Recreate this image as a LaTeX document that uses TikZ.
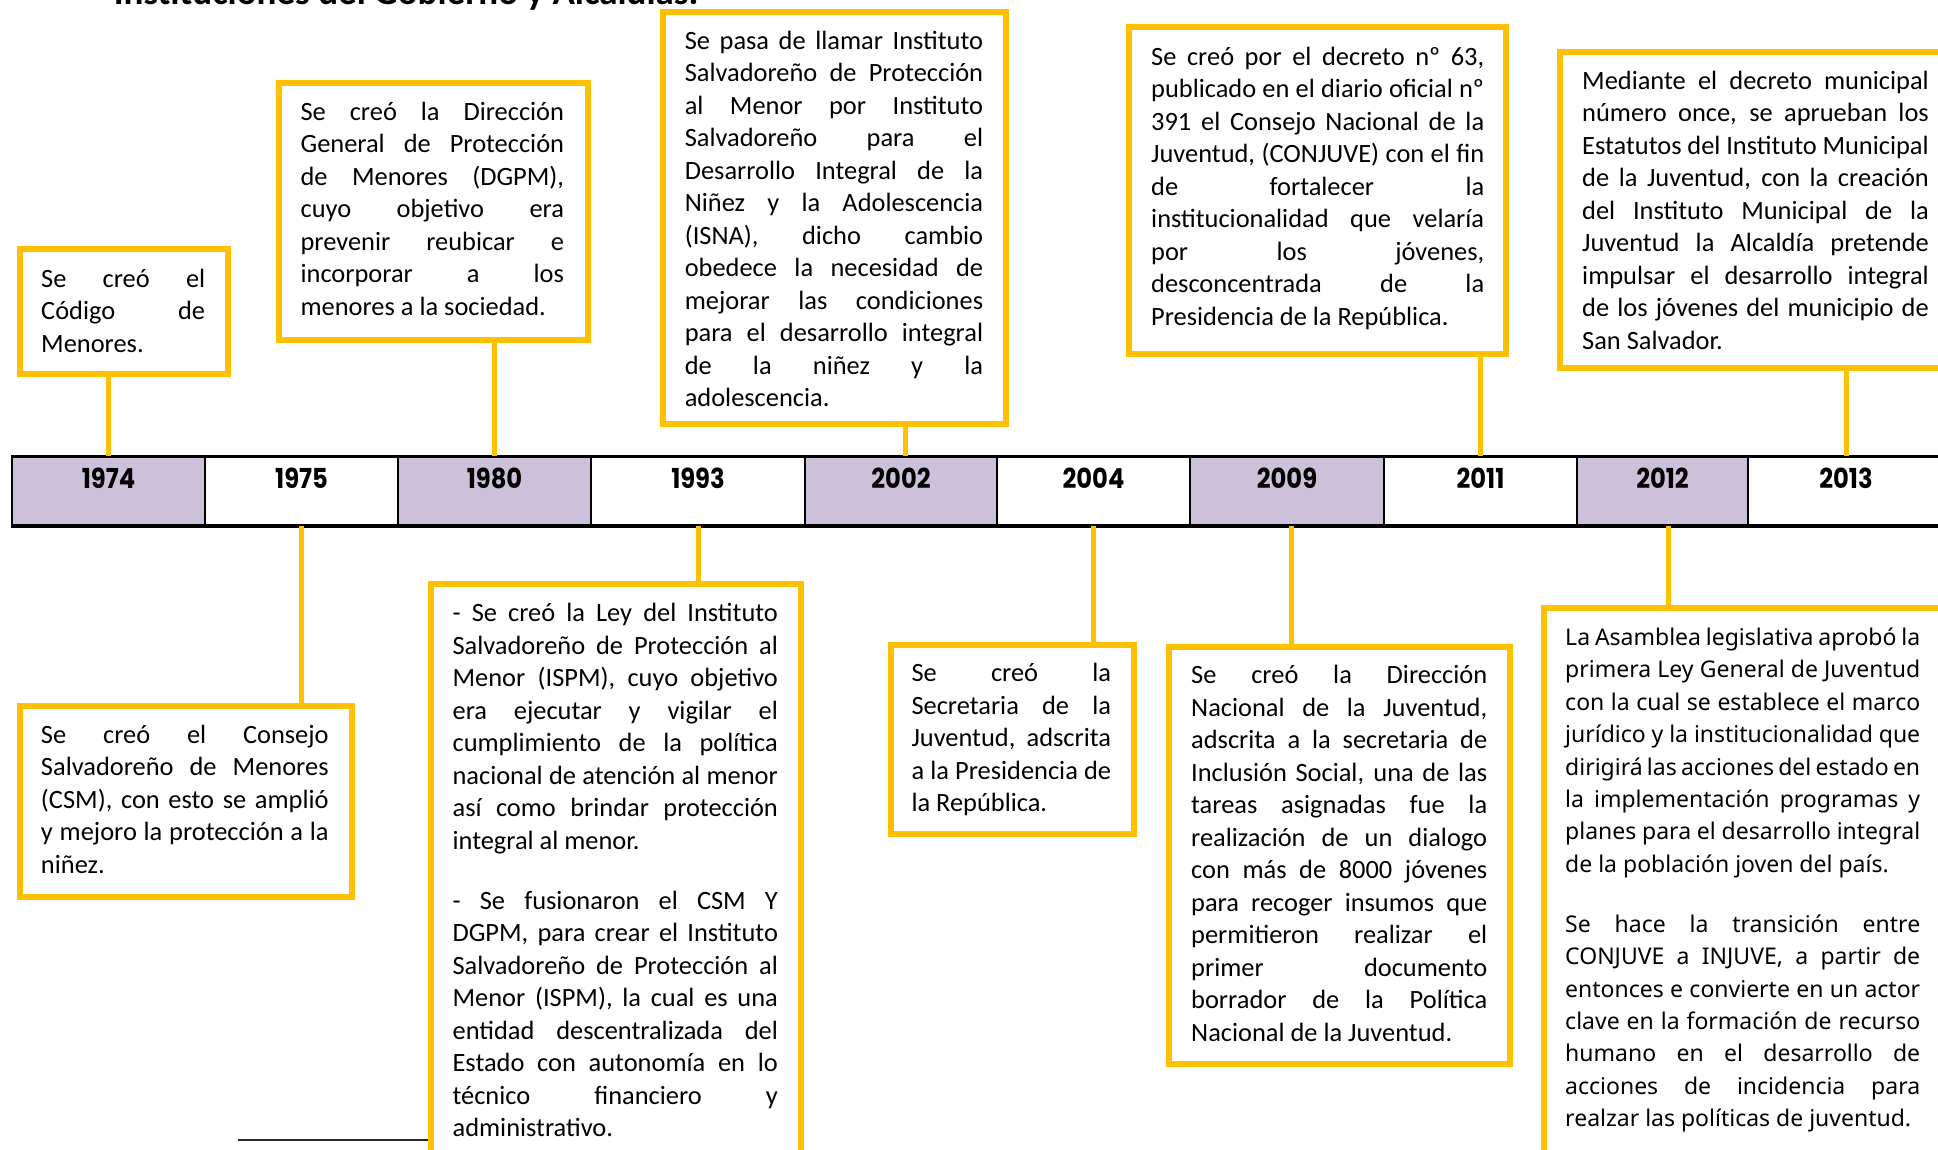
\documentclass[tikz,border=0pt]{standalone}
\usepackage{fontspec}
\setmainfont{Carlito}
\newfontfamily\yearfont{Poppins}[FakeStretch=0.88]
\newfontfamily\altfont{Noto Sans}
\definecolor{gold}{HTML}{FFC000}
\definecolor{lav}{HTML}{CCC0DA}
\setlength{\parindent}{0pt}
\setlength{\parskip}{0pt}
\tolerance=10000
\hbadness=10000
\hyphenpenalty=10000
\newcommand\bodyfont{\fontsize{26.4bp}{32.5bp}\selectfont}
\newcommand\altbody{\altfont\fontsize{23bp}{32.4bp}\selectfont}
\begin{document}
\begin{tikzpicture}[x=1bp,y=-1bp,
  evbox/.style={draw=gold, line width=6bp, fill=white, rectangle, inner sep=0pt},
  txt/.style={anchor=north west, inner sep=0pt, text width=#1, align=justify, font=\bodyfont},
  conn/.style={draw=gold, line width=5bp},
  cell/.style={draw=black, line width=2bp, rectangle, inner sep=0pt, minimum height=68bp},
  purp/.style={cell, fill=lav},
  plain/.style={cell, fill=white},
  year/.style={font=\yearfont\fontsize{27.5bp}{27.5bp}\selectfont\bfseries, inner sep=0pt, text=black}
]
\clip (0,0) rectangle (1938,1149);
\fill[white] (0,0) rectangle (1938,1149);

% title (cut off at top)
\node[anchor=base west, inner sep=0pt, font=\fontsize{37bp}{40bp}\selectfont\bfseries] (title) at (113.6,4) {Instituciones del Gobierno y Alcaldías.};

% timeline cells
\node[purp,  minimum width=193bp] (c1974) at (108.5,491) {};
\node[plain, minimum width=193bp] (c1975) at (301.5,491) {};
\node[purp,  minimum width=193bp] (c1980) at (494.5,491) {};
\node[plain, minimum width=214bp] (c1993) at (698,491) {};
\node[purp,  minimum width=192bp] (c2002) at (901,491) {};
\node[plain, minimum width=193bp] (c2004) at (1093.5,491) {};
\node[purp,  minimum width=194bp] (c2009) at (1287,491) {};
\node[plain, minimum width=193bp] (c2011) at (1480.5,491) {};
\node[purp,  minimum width=171bp] (c2012) at (1662.5,491) {};
\node[plain, minimum width=196bp] (c2013) at (1846,491) {};
\draw[line width=3bp] (c1974.north west) -- (c2013.north east);
\draw[line width=3bp] (c1974.south west) -- (c2013.south east);

\foreach \yr in {1974,1975,1980,1993,2002,2004,2009,2011,2012,2013}
  \node[year] (y\yr) at ([yshift=13bp]c\yr.center) {\yr};

% event boxes (top)
\node[evbox, minimum width=208bp, minimum height=125bp] (b1974) at (124,311.5) {};
\node[evbox, minimum width=309bp, minimum height=257bp] (b1980) at (433,211.5) {};
\node[evbox, minimum width=343bp, minimum height=412bp] (b2002) at (834.5,218) {};
\node[evbox, minimum width=377bp, minimum height=327bp] (b2011) at (1317.5,190.5) {};
\node[evbox, minimum width=400bp, minimum height=316bp] (b2013) at (1760,210) {};
% event boxes (bottom)
\node[evbox, minimum width=331bp, minimum height=191bp] (b1975) at (186,801.4) {};
\node[evbox, minimum width=370bp, minimum height=586bp] (b1993) at (615.9,876.9) {};
\node[evbox, minimum width=243bp, minimum height=189bp] (b2004) at (1012.3,739.2) {};
\node[evbox, minimum width=341bp, minimum height=417bp] (b2009) at (1339.5,855) {};
\node[evbox, minimum width=416bp, minimum height=562bp] (b2012) at (1751.9,888.9) {};

% connectors
\draw[conn] (c1974.north) -- (c1974.north |- b1974.south);
\draw[conn] (c1980.north) -- (c1980.north |- b1980.south);
\draw[conn] ([xshift=4bp]c2002.north) -- ([xshift=4bp]c2002.north |- b2002.south);
\draw[conn] (c2011.north) -- (c2011.north |- b2011.south);
\draw[conn] (c2013.north) -- (c2013.north |- b2013.south);
\draw[conn] (c1975.south) -- (c1975.south |- b1975.north);
\draw[conn] (c1993.south) -- (c1993.south |- b1993.north);
\draw[conn] (c2004.south) -- (c2004.south |- b2004.north);
\draw[conn] ([xshift=4bp]c2009.south) -- ([xshift=4bp]c2009.south |- b2009.north);
\draw[conn] ([xshift=6bp]c2012.south) -- ([xshift=6bp]c2012.south |- b2012.north);

% texts
\node[txt=164bp] (t1974) at (41,264.25) {\strut Se creó el\linebreak Código de\linebreak Menores.};
\node[txt=263.4bp] (t1980) at (300.4,97.25) {\strut Se creó la Dirección\linebreak General de Protección\linebreak de Menores (DGPM),\linebreak cuyo objetivo era\linebreak prevenir reubicar e\linebreak incorporar a los\linebreak menores a la sociedad.};
\node[txt=298.3bp] (t2002) at (684.6,26.25) {\strut Se pasa de llamar Instituto\linebreak Salvadoreño de Protección\linebreak al Menor por Instituto\linebreak Salvadoreño para el\linebreak Desarrollo Integral de la\linebreak Niñez y la Adolescencia\linebreak (ISNA), dicho cambio\linebreak obedece la necesidad de\linebreak mejorar las condiciones\linebreak para el desarrollo integral\linebreak de la niñez y la\linebreak adolescencia.};
\node[txt=333bp] (t2011) at (1151,42.25) {\strut Se creó por el decreto nº 63,\linebreak publicado en el diario oficial nº\linebreak 391 el Consejo Nacional de la\linebreak Juventud, (CONJUVE) con el fin\linebreak de fortalecer la\linebreak institucionalidad que velaría\linebreak por los jóvenes,\linebreak desconcentrada de la\linebreak Presidencia de la República.};
\node[txt=346.6bp] (t2013) at (1582,66.25) {\strut Mediante el decreto municipal\linebreak número once, se aprueban los\linebreak Estatutos del Instituto Municipal\linebreak de la Juventud, con la creación\linebreak del Instituto Municipal de la\linebreak Juventud la Alcaldía pretende\linebreak impulsar el desarrollo integral\linebreak de los jóvenes del municipio de\linebreak San Salvador.};
\node[txt=287.6bp] (t1975) at (40.8,720.25) {\strut Se creó el Consejo\linebreak Salvadoreño de Menores\linebreak (CSM), con esto se amplió\linebreak y mejoro la protección a la\linebreak niñez.};
\node[txt=325.3bp] (t1993) at (452.4,598.95) {\strut - Se creó la Ley del Instituto\linebreak Salvadoreño de Protección al\linebreak Menor (ISPM), cuyo objetivo\linebreak era ejecutar y vigilar el\linebreak cumplimiento de la política\linebreak nacional de atención al menor\linebreak así como brindar protección\linebreak integral al menor.\par\vspace{27.5bp}- Se fusionaron el CSM Y\linebreak DGPM, para crear el Instituto\linebreak Salvadoreño de Protección al\linebreak Menor (ISPM), la cual es una\linebreak entidad descentralizada del\linebreak Estado con autonomía en lo\linebreak técnico financiero y\linebreak administrativo.};
\node[txt=199.6bp] (t2004) at (911.3,658.95) {\strut Se creó la\linebreak Secretaria de la\linebreak Juventud, adscrita\linebreak a la Presidencia de\linebreak la República.};
\node[txt=296bp] (t2009) at (1191,660.55) {\strut Se creó la Dirección\linebreak Nacional de la Juventud,\linebreak adscrita a la secretaria de\linebreak Inclusión Social, una de las\linebreak tareas asignadas fue la\linebreak realización de un dialogo\linebreak con más de 8000 jóvenes\linebreak para recoger insumos que\linebreak permitieron realizar el\linebreak primer documento\linebreak borrador de la Política\linebreak Nacional de la Juventud.};
\node[txt=355bp, font=\altbody] (t2012) at (1565,622.6) {\strut La Asamblea legislativa aprobó la\linebreak primera Ley General de Juventud\linebreak con la cual se establece el marco\linebreak jurídico y la institucionalidad que\linebreak dirigirá las acciones del estado en\linebreak la implementación programas y\linebreak planes para el desarrollo integral\linebreak de la población joven del país.\par\vspace{27.6bp}Se hace la transición entre\linebreak CONJUVE a INJUVE, a partir de\linebreak entonces e convierte en un actor\linebreak clave en la formación de recurso\linebreak humano en el desarrollo de\linebreak acciones de incidencia para\linebreak realzar las políticas de juventud.};

% footnote rule at bottom left
\coordinate (fnA) at (238,1140);
\draw[line width=2bp, black!85] (fnA) -- (fnA -| b1993.west);
\end{tikzpicture}
\end{document}
